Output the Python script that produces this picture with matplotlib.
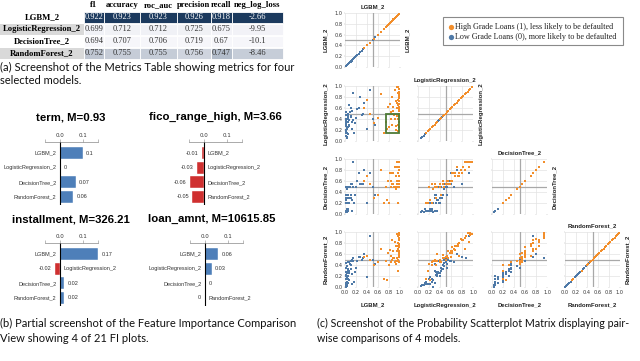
"""Three-panel paper figure: metrics table, FI bars, probability SPLOM."""
import matplotlib
matplotlib.use("Agg")
import matplotlib.pyplot as plt                                    # noqa: E402
from matplotlib.patches import Rectangle                           # noqa: E402
from matplotlib.colors import to_rgb                               # noqa: E402
import numpy as np                                                 # noqa: E402

W, H = 640, 361

MODELS = ["LGBM_2", "LogisticRegression_2", "DecisionTree_2", "RandomForest_2"]
METRICS = ["f1", "accuracy", "roc_auc", "precision", "recall", "neg_log_loss"]
F1 = [0.922, 0.699, 0.694, 0.752]
ACCURACY = [0.923, 0.712, 0.707, 0.755]
ROC_AUC = [0.923, 0.712, 0.706, 0.755]
PRECISION = [0.926, 0.725, 0.719, 0.756]
RECALL = [0.918, 0.675, 0.67, 0.747]
NEG_LOG_LOSS = [-2.66, -9.95, -10.1, -8.46]

FI_TITLES = ["term, M=0.93", "fico_range_high, M=3.66",
             "installment, M=326.21", "loan_amnt, M=10615.85"]
FI_TERM = [0.1, 0.001, 0.07, 0.06]
FI_FICO = [-0.01, -0.03, -0.06, -0.05]
FI_INSTALLMENT = [0.17, -0.02, 0.02, 0.02]
FI_LOAN_AMNT = [0.06, 0.03, 0.001, -0.001]

# predicted probabilities per sample, low grade (0) and high grade (1)
LOW_LGBM = [0.02, 0.03, 0.01, 0.05, 0.04, 0.08, 0.10, 0.02, 0.06, 0.12,
            0.15, 0.03, 0.20, 0.25, 0.07, 0.30, 0.05, 0.18, 0.01, 0.09,
            0.35, 0.14, 0.40, 0.02, 0.11, 0.04, 0.22, 0.50, 0.06, 0.28,
            0.01, 0.16, 0.03, 0.55, 0.08, 0.12, 0.45, 0.02, 0.33, 0.05,
            0.01, 0.04, 0.02, 0.07, 0.03, 0.10, 0.01, 0.05, 0.13, 0.02]
LOW_LOGREG = [0.15, 0.25, 0.10, 0.35, 0.40, 0.30, 0.45, 0.20, 0.50, 0.55,
              0.38, 0.05, 0.42, 0.60, 0.28, 0.48, 0.12, 0.33, 0.18, 0.52,
              0.70, 0.88, 0.22, 0.32, 0.44, 0.08, 0.58, 0.40, 0.26, 0.80,
              0.36, 0.15, 0.48, 0.30, 0.65, 0.22, 0.93, 0.40, 0.50, 0.45,
              0.30, 0.22, 0.52, 0.38, 0.14, 0.60, 0.27, 0.42, 0.34, 0.48]
LOW_DTREE = [0.05, 0.05, 0.03, 0.05, 0.20, 0.30, 0.35, 0.05, 0.50, 0.55,
             0.50, 0.03, 0.50, 0.75, 0.20, 0.55, 0.10, 0.35, 0.05, 0.50,
             0.80, 0.95, 0.20, 0.20, 0.30, 0.05, 0.60, 0.50, 0.10, 0.55,
             0.25, 0.20, 0.45, 0.35, 0.50, 0.05, 0.75, 0.30, 0.55, 0.35,
             0.05, 0.10, 0.35, 0.20, 0.05, 0.55, 0.03, 0.30, 0.25, 0.50]
LOW_RFOREST = [0.05, 0.10, 0.03, 0.20, 0.25, 0.30, 0.40, 0.15, 0.45, 0.50,
               0.48, 0.02, 0.35, 0.55, 0.12, 0.50, 0.08, 0.28, 0.06, 0.42,
               0.60, 0.52, 0.18, 0.22, 0.32, 0.04, 0.47, 0.50, 0.14, 0.55,
               0.28, 0.10, 0.38, 0.42, 0.46, 0.06, 0.93, 0.20, 0.52, 0.33,
               0.08, 0.18, 0.35, 0.26, 0.10, 0.48, 0.00, 0.30, 0.24, 0.44]
HIGH_LGBM = [0.98, 0.99, 0.97, 0.95, 0.99, 0.90, 0.85, 0.80, 0.92, 0.98,
             0.96, 0.99, 0.88, 0.75, 0.60, 0.45, 0.35, 0.97, 0.94, 0.99,
             0.86, 0.78, 0.99, 0.93, 0.70, 0.65, 0.98, 0.89, 0.99, 0.52,
             0.96, 0.82, 0.99, 0.91, 0.40, 0.97, 0.84, 0.76, 0.99, 0.95,
             0.99, 0.97, 0.98, 0.95, 0.99, 0.87, 0.92, 0.99, 0.83, 0.96]
HIGH_LOGREG = [0.95, 0.85, 0.75, 0.60, 0.50, 0.40, 0.30, 0.25, 0.20, 0.45,
               0.65, 0.90, 0.55, 0.35, 0.42, 0.50, 0.60, 0.98, 0.70, 0.35,
               0.80, 0.62, 0.72, 0.28, 0.15, 0.85, 0.58, 0.48, 0.78, 0.32,
               0.88, 0.68, 0.62, 0.92, 0.75, 0.40, 0.52, 0.22, 0.68, 0.98,
               0.55, 0.30, 0.82, 0.45, 0.25, 0.62, 0.72, 0.95, 0.40, 0.18]
HIGH_DTREE = [0.95, 0.95, 0.75, 0.60, 0.55, 0.50, 0.55, 0.20, 0.50, 0.60,
              0.75, 0.95, 0.55, 0.50, 0.35, 0.55, 0.60, 0.95, 0.85, 0.50,
              0.75, 0.60, 0.70, 0.45, 0.20, 0.80, 0.55, 0.50, 0.80, 0.30,
              0.95, 0.75, 0.60, 0.85, 0.70, 0.55, 0.60, 0.25, 0.70, 0.95,
              0.60, 0.50, 0.85, 0.55, 0.55, 0.75, 0.70, 0.95, 0.50, 0.20]
HIGH_RFOREST = [0.95, 0.90, 0.80, 0.65, 0.55, 0.45, 0.50, 0.40, 0.42, 0.58,
                0.70, 0.98, 0.52, 0.48, 0.45, 0.50, 0.55, 0.96, 0.75, 0.60,
                0.85, 0.62, 0.78, 0.47, 0.15, 0.70, 0.62, 0.53, 0.88, 0.40,
                0.92, 0.68, 0.72, 0.82, 0.56, 0.50, 0.57, 0.12, 0.75, 0.97,
                0.66, 0.48, 0.86, 0.52, 0.45, 0.65, 0.74, 0.99, 0.46, 0.30]

LEGEND = ["High Grade Loans (1), less likely to be defaulted",
          "Low Grade Loans (0), more likely to be defaulted"]

NAVY = "#1c3a5e"
PALE = "#f6f6fa"
BLUE_BAR = "#4e7fb9"
RED_BAR = "#cf3030"
ORANGE = "#f28e2b"
BLUE = "#4e79a7"
SANS = ["Liberation Sans", "DejaVu Sans"]
SERIF = ["Liberation Serif", "DejaVu Serif"]
CAPTION = ["Lato", "DejaVu Sans"]


def box(x0, y0, x1, y1):
    """pixel box (top-left origin) -> figure fraction rect"""
    return [x0 / W, 1 - y1 / H, (x1 - x0) / W, (y1 - y0) / H]


def mix(t):
    a, b = np.array(to_rgb(PALE)), np.array(to_rgb(NAVY))
    return tuple(a + (b - a) * t)


def fmt(v):
    r = round(v, 2)
    return "0" if abs(r) < 0.005 else f"{r:g}"


def draw_table(ov):
    cols = [F1, ACCURACY, ROC_AUC, PRECISION, RECALL, NEG_LOG_LOSS]
    edges = [84, 104, 140, 177, 211, 232, 283]
    for j, name in enumerate(METRICS):
        cx = (edges[j] + edges[j + 1]) / 2
        ov.text(cx, 5, name, ha="center", va="center", fontsize=6.2,
                fontweight="bold", family=SERIF)
    for i, model in enumerate(MODELS):
        top = 11.5 + i * 12
        if i in (1, 3):
            ov.add_patch(Rectangle((0, top), 83.5, 11, color="#d9d9d9", lw=0))
        ov.text(42, top + 5.7, model, ha="center", va="center", fontsize=6.2,
                fontweight="bold", family=SERIF)
        for j, col in enumerate(cols):
            t = (col[i] - min(col)) / (max(col) - min(col))
            ov.add_patch(Rectangle((edges[j], top), edges[j + 1] - edges[j], 11,
                                   facecolor=mix(t), edgecolor="white", lw=0.6))
            ov.text((edges[j] + edges[j + 1]) / 2, top + 5.7, f"{col[i]:g}",
                    ha="center", va="center", fontsize=6, family=SERIF,
                    color="white" if t > 0.6 else "#333333")


def draw_fi(ax, vals):
    pos = np.arange(len(MODELS))
    colors = [BLUE_BAR if v >= 0 else RED_BAR for v in vals]
    ax.barh(pos, vals, height=0.82, color=colors, edgecolor="white", lw=0.3)
    ax.set_xlim(-0.065, 0.168)
    ax.set_ylim(3.55, -0.76)
    ax.axvline(0, color="black", lw=0.8)
    ax.patch.set_alpha(0)
    for s in ("left", "right", "bottom"):
        ax.spines[s].set_visible(False)
    ax.spines["top"].set_color("#888888")
    ax.spines["top"].set_linewidth(0.5)
    ax.xaxis.tick_top()
    ax.set_xticks([0.0, 0.1])
    ax.set_xticklabels(["0.0", "0.1"])
    ax.set_xticks([-0.065, 0.168], minor=True)
    ax.tick_params(axis="x", which="both", labelsize=4, length=2.5, width=0.4,
                   color="#888888", labelcolor="#333333", pad=0.5)
    ax.set_yticks([])
    for i, v in enumerate(vals):
        kw = dict(va="center", fontsize=4, color="#333333",
                  textcoords="offset points", family=SANS)
        if v >= 0:
            ax.annotate(MODELS[i], (0, i), xytext=(-2.5, 0), ha="right", **kw)
            ax.annotate(fmt(v), (v, i), xytext=(2.5, 0), ha="left", **kw)
        else:
            ax.annotate(fmt(v), (v, i), xytext=(-2.5, 0), ha="right", **kw)
            ax.annotate(MODELS[i], (0, i), xytext=(2.5, 0), ha="left", **kw)


def main() -> int:
    fig = plt.figure(figsize=(W / 100, H / 100), dpi=100)
    ov = fig.add_axes([0, 0, 1, 1])
    ov.set_xlim(0, W)
    ov.set_ylim(H, 0)
    ov.axis("off")

    draw_table(ov)

    # feature importance panels
    fi_vals = [FI_TERM, FI_FICO, FI_INSTALLMENT, FI_LOAN_AMNT]
    fi_boxes = [(45, 142, 98, 205), (189, 142, 242, 205),
                (45, 243, 98, 306), (190, 243, 243, 306)]
    fi_titles_xy = [(71, 117), (215, 117), (71, 219), (212, 219)]
    for vals, b, title, (tx, ty) in zip(fi_vals, fi_boxes, FI_TITLES, fi_titles_xy):
        ax = fig.add_axes(box(*b))
        draw_fi(ax, vals)
        ov.text(tx, ty, title, ha="center", va="center", fontsize=8.2,
                fontweight="bold", family=SANS)

    # probability scatterplot matrix
    low = [LOW_LGBM, LOW_LOGREG, LOW_DTREE, LOW_RFOREST]
    high = [HIGH_LGBM, HIGH_LOGREG, HIGH_DTREE, HIGH_RFOREST]
    xs = [(345, 400), (418, 473), (492, 547), (565, 620)]
    ys = [(13, 67), (86, 141), (159, 214), (232, 287)]
    lab = dict(fontsize=4.3, fontweight="bold", family=SANS, color="#222222")
    for r in range(4):
        for c in range(r + 1):
            ax = fig.add_axes(box(xs[c][0], ys[r][0], xs[c][1], ys[r][1]))
            ax.patch.set_alpha(0)
            for s in ax.spines.values():
                s.set_visible(False)
            ax.set_xlim(0, 1)
            ax.set_ylim(0, 1)
            for g in (0, 0.2, 0.4, 0.6, 0.8, 1.0):
                ax.axvline(g, color="#e3e3e3", lw=0.5, zorder=0)
                ax.axhline(g, color="#e3e3e3", lw=0.5, zorder=0)
            ax.axvline(0.5, color="#a8a8a8", lw=0.9, zorder=1)
            ax.axhline(0.5, color="#a8a8a8", lw=0.9, zorder=1)
            ax.scatter(low[c], low[r], s=2.4, marker="s", color=BLUE,
                       lw=0, zorder=2, clip_on=False)
            ax.scatter(high[c], high[r], s=2.4, marker="s", color=ORANGE,
                       lw=0, zorder=2, clip_on=False)
            ticks = [0, 0.2, 0.4, 0.6, 0.8, 1.0]
            ax.set_xticks(ticks)
            ax.set_yticks(ticks)
            ax.tick_params(labelsize=3.6, length=1, width=0.3, pad=0.8,
                           color="#aaaaaa", labelcolor="#333333")
            ax.set_xticklabels([f"{t:.1f}" for t in ticks] if r == 3 else [])
            ax.set_yticklabels([f"{t:.1f}" for t in ticks] if c == 0 else [])
            if r == 1 and c == 0:
                ax.add_patch(Rectangle((0.75, 0.15), 0.23, 0.34, fill=False,
                                       edgecolor="#4d7a36", lw=1.3, zorder=3))
            if r == c:
                ax.set_title(MODELS[c], pad=3, **lab)
                ov.text(xs[c][1] + 8, (ys[r][0] + ys[r][1]) / 2, MODELS[r],
                        rotation=90, ha="center", va="center", **lab)
        ov.text(326, (ys[r][0] + ys[r][1]) / 2, MODELS[r], rotation=90,
                ha="center", va="center", **lab)
    for c in range(4):
        ov.text((xs[c][0] + xs[c][1]) / 2, 305, MODELS[c], ha="center",
                va="center", **lab)

    # legend
    ov.add_patch(Rectangle((443, 17), 180, 28, facecolor="white",
                           edgecolor="#8a8a8a", lw=0.8))
    for k, (txt, colr) in enumerate(zip(LEGEND, [ORANGE, BLUE])):
        yy = 27 + k * 10
        ov.plot(450.5, yy, "o", ms=3.8, color=colr, mec="none")
        ov.text(455, yy, txt, ha="left", va="center", fontsize=5.9,
                family=SERIF, color="#222222")

    # captions
    cap = dict(ha="left", va="center", family=CAPTION, color="#111111")
    ov.text(0, 67, "(a) Screenshot of the Metrics Table showing metrics for four",
            fontsize=8.0, **cap)
    ov.text(0, 80, "selected models.", fontsize=8.0, **cap)
    ov.text(0, 323, "(b) Partial screenshot of the Feature Importance Comparison",
            fontsize=8.0, **cap)
    ov.text(0, 338, "View showing 4 of 21 FI plots.", fontsize=8.0, **cap)
    ov.text(317, 323,
            "(c) Screenshot of the Probability Scatterplot Matrix displaying pair-",
            fontsize=7.65, **cap)
    ov.text(317, 338, "wise comparisons of 4 models.", fontsize=7.65, **cap)

    fig.savefig("out.png", dpi=100)
    return 0


if __name__ == "__main__":
    raise SystemExit(main())
